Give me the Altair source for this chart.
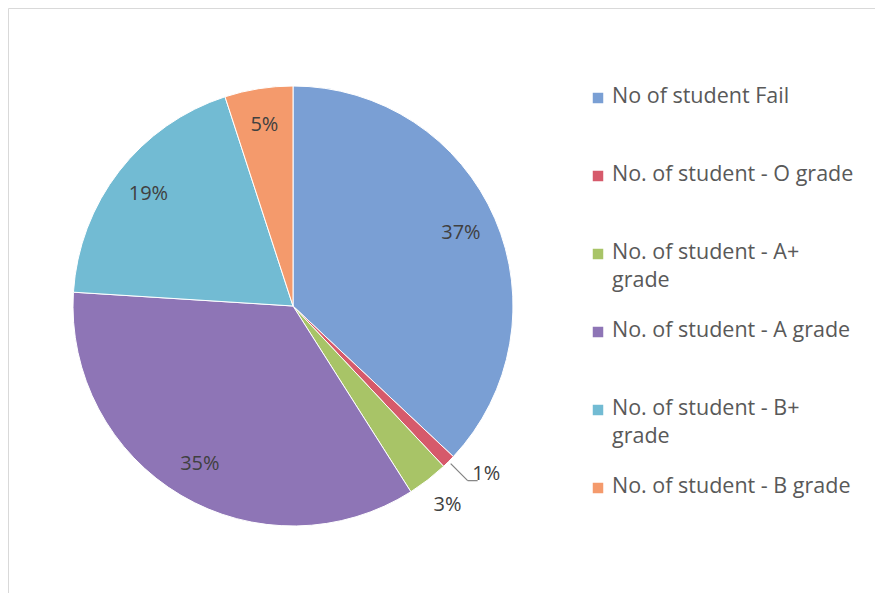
import altair as alt
import pandas as pd

categories = [
    "No of student Fail",
    "No. of student - O grade",
    "No. of student - A+ grade",
    "No. of student - A grade",
    "No. of student - B+ grade",
    "No. of student - B grade",
]
legend_labels = [
    "No of student Fail",
    "No. of student - O grade",
    "No. of student - A+\ngrade",
    "No. of student - A grade",
    "No. of student - B+\ngrade",
    "No. of student - B grade",
]
percent = [37, 1, 3, 35, 19, 5]
colors = ["#7a9fd4", "#d65a6b", "#a8c467", "#8e75b6", "#72bbd3", "#f49a6c"]

df = pd.DataFrame({
    "cat": categories,
    "leg": legend_labels,
    "pct": percent,
    "idx": list(range(len(categories))),
})

CX, CY, R = 285, 298, 220
FONT = "Open Sans"

base = alt.Chart(df)
theta = alt.Theta("pct:Q", stack=True)
order = alt.Order("idx:Q")
color = alt.Color("cat:N", scale=alt.Scale(domain=categories, range=colors), legend=None)

arc = base.mark_arc(outerRadius=R, stroke="white", strokeWidth=1).encode(
    theta=theta, order=order, color=color, x=alt.value(CX), y=alt.value(CY)
)

inner = base.transform_calculate(
    lab="datum.pct >= 5 ? datum.pct + '%' : ''"
).mark_text(radius=183, fontSize=20, font=FONT, color="#404040").encode(
    theta=theta, order=order, text="lab:N", x=alt.value(CX), y=alt.value(CY)
)

outer = base.transform_calculate(
    lab="datum.pct > 1 && datum.pct < 5 ? datum.pct + '%' : ''"
).mark_text(radius=252, fontSize=20, font=FONT, color="#404040").encode(
    theta=theta, order=order, text="lab:N", x=alt.value(CX), y=alt.value(CY)
)

leader_lab = base.transform_calculate(
    lab="datum.pct <= 1 ? datum.pct + '%' : ''"
).mark_text(radius=252, fontSize=20, font=FONT, color="#404040", dx=15, dy=-10).encode(
    theta=theta, order=order, text="lab:N", x=alt.value(CX), y=alt.value(CY)
)

geo = base.transform_window(
    cum="sum(pct)", sort=[alt.SortField("idx")]
).transform_calculate(
    mid="(datum.cum - datum.pct / 2) / 100 * 2 * PI",
    xa=f"{CX} + {R + 3} * sin(datum.mid)",
    ya=f"{CY} - {R + 3} * cos(datum.mid)",
    xb=f"{CX} + {R + 27} * sin(datum.mid)",
    yb=f"{CY} - {R + 27} * cos(datum.mid)",
    xc=f"{CX} + {R + 27} * sin(datum.mid) + 10",
).transform_filter("datum.pct <= 1")

seg1 = geo.mark_rule(color="#808080", strokeWidth=1.2).encode(
    x=alt.X("xa:Q", scale=None), y=alt.Y("ya:Q", scale=None),
    x2="xb:Q", y2="yb:Q"
)
seg2 = geo.mark_rule(color="#808080", strokeWidth=1.2).encode(
    x=alt.X("xb:Q", scale=None), y=alt.Y("yb:Q", scale=None),
    x2="xc:Q", y2="yb:Q"
)

leg_y = alt.Y("cat:N", scale=alt.Scale(type="point", domain=categories, range=[90, 480], padding=0), axis=None)
leg_sq = base.mark_square(size=110, opacity=1).encode(
    x=alt.value(590), y=leg_y, color=color
)
leg_tx = base.mark_text(
    align="left", baseline="top", dy=-12, lineBreak="\n", lineHeight=28,
    fontSize=21.5, font=FONT, color="#595959"
).encode(x=alt.value(604), y=leg_y, text="leg:N")

chart = alt.layer(arc, inner, outer, leader_lab, seg1, seg2, leg_sq, leg_tx).resolve_scale(
    x="independent", y="independent"
).properties(
    width=867, height=585, padding=0, background="white"
).configure_view(stroke="#d9d9d9", strokeWidth=1)

chart.save("out.html", embed_options={"renderer": "svg", "actions": False})
